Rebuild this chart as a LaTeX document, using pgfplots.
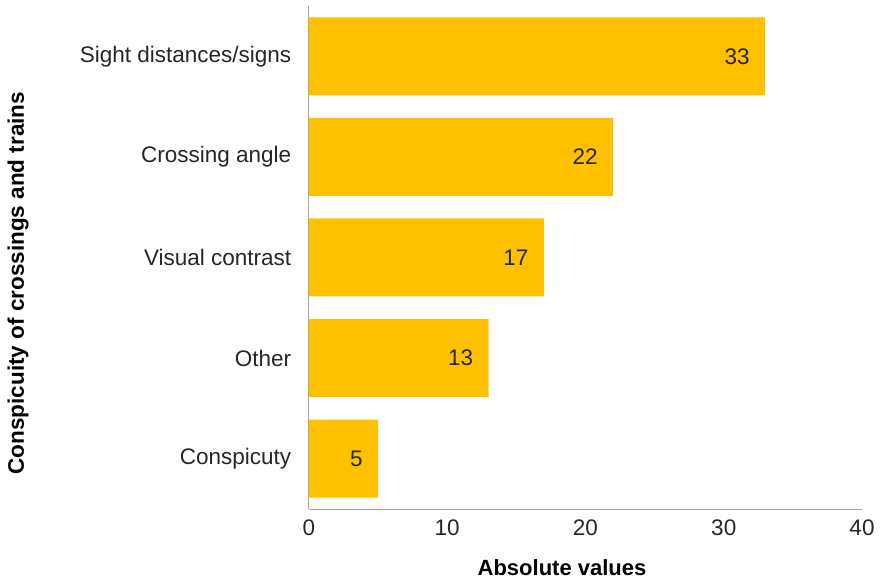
\documentclass[border=0pt]{standalone}
\usepackage{fontspec}
\setmainfont{Liberation Sans}
\usepackage{pgfplots}
\pgfplotsset{compat=1.18}
\definecolor{bargold}{HTML}{FFC000}
\definecolor{axgray}{HTML}{A6A6A6}
\definecolor{txt}{HTML}{262626}
\begin{document}
\begin{tikzpicture}
\begin{axis}[
  scale only axis,
  width=553pt, height=503pt,
  xbar, bar width=78pt,
  xmin=0, xmax=40, ymin=-0.5, ymax=4.5,
  xtick={0,10,20,30,40},
  ytick={0,1,2,3,4},
  yticklabels={Conspicuty,Other,Visual contrast,Crossing angle,Sight distances/signs},
  axis x line*=bottom, axis y line*=left,
  axis line style={axgray, line width=1pt},
  tick style={draw=none},
  /pgf/number format/assume math mode=true,
  ticklabel style={font=\fontsize{22.5}{26}\selectfont, text=txt},
  yticklabel style={xshift=-10pt},
  xticklabel style={yshift=-7pt},
  xlabel={\textbf{Absolute values}},
  ylabel={\textbf{Conspicuity of crossings and trains}},
  every axis x label/.style={at={(axis description cs:0.4575,-0.117)}, anchor=center, font=\fontsize{22}{26}\selectfont, text=black},
  every axis y label/.style={at={(axis description cs:-0.526,0.449)}, anchor=center, rotate=90, font=\fontsize{22.5}{26}\selectfont, text=black},
  nodes near coords,
  every node near coord/.append style={anchor=east, xshift=-12pt, font=\fontsize{22.5}{26}\selectfont, text=txt},
]
\addplot[fill=bargold, draw=none] coordinates {(5,0) (13,1) (17,2) (22,3) (33,4)};
\end{axis}
\path (-309pt,-71pt) rectangle (573pt,509pt);
\end{tikzpicture}
\end{document}
